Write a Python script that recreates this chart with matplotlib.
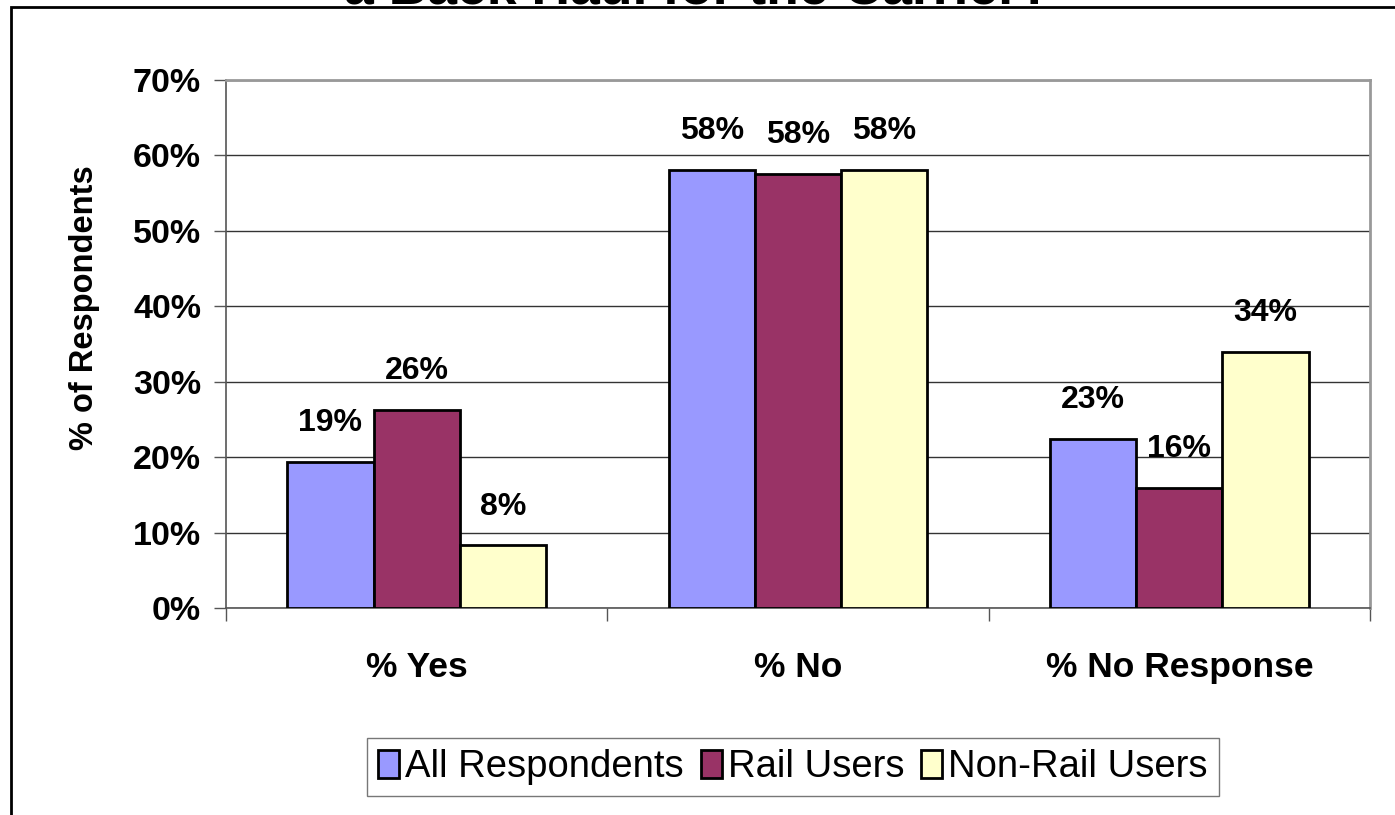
import matplotlib
matplotlib.use("Agg")
import matplotlib.pyplot as plt
from matplotlib.patches import Rectangle
import numpy as np

categories = ["% Yes", "% No", "% No Response"]
series_names = ["All Respondents", "Rail Users", "Non-Rail Users"]
all_resp = [19.4, 58.1, 22.4]
rail_users = [26.2, 57.6, 15.9]
non_rail = [8.3, 58.1, 33.9]
label_text = [["19%", "58%", "23%"], ["26%", "58%", "16%"], ["8%", "58%", "34%"]]
colors = ["#9999FF", "#993366", "#FFFFCC"]
title = "a Back Haul for the Carrier?"
ylabel = "% of Respondents"
yticks = [0, 10, 20, 30, 40, 50, 60, 70]

plt.rcParams['font.family'] = ['Liberation Sans', 'DejaVu Sans']

W, H = 1395, 815
fig = plt.figure(figsize=(W / 100, H / 100), dpi=100)

# outer frame (cropped at right and bottom)
frame = Rectangle((11 / W, -0.1), 1.2, 1.1 - 7 / H, transform=fig.transFigure,
                  fill=False, edgecolor="black", linewidth=2.0, clip_on=False)
fig.patches.append(frame)

# title (mostly cut off at top, as in the reference)
fig.text(0.5, 1 - 4 / H, title, ha="center", va="baseline",
         fontsize=38.5, fontweight="bold")

ax = fig.add_axes([226 / W, 1 - 608 / H, (1370 - 226) / W, (608 - 80) / H])

x = np.arange(len(categories))
bw = 0.226
data = [all_resp, rail_users, non_rail]
for i, (vals, c, name) in enumerate(zip(data, colors, series_names)):
    pos = x + (i - 1) * bw
    ax.bar(pos, vals, width=bw, color=c, edgecolor="black",
           linewidth=2.0, label=name, zorder=3)
    for p, v, t in zip(pos, vals, label_text[i]):
        ax.annotate(t, (p, v), xytext=(0, 28), textcoords="offset points",
                    ha="center", va="center", fontsize=23, fontweight="bold",
                    zorder=4)

ax.set_xlim(-0.5, 2.5)
ax.set_ylim(0, 70)
ax.set_yticks(yticks)
ax.set_yticklabels([f"{t}%" for t in yticks], fontsize=24.5, fontweight="bold")
ax.yaxis.grid(True, color="#333333", linewidth=1.0, zorder=0)
ax.tick_params(axis="y", length=9, width=1, color="#555555", pad=9)

ax.set_xticks([-0.5, 0.5, 1.5, 2.5])
ax.set_xticklabels([])
ax.tick_params(axis="x", which="major", length=9, width=1, color="#555555")
ax.set_xticks(x, minor=True)
ax.set_xticklabels(categories, minor=True, fontsize=25.5, fontweight="bold")
ax.tick_params(axis="x", which="minor", length=0, pad=31)

fig.text(85 / W, 1 - 308 / H, ylabel, rotation=90, ha="center", va="center",
         fontsize=23.5, fontweight="bold")

for s in ["left", "bottom"]:
    ax.spines[s].set_color("#555555")
    ax.spines[s].set_linewidth(1.2)
for s in ["top", "right"]:
    ax.spines[s].set_color("#999999")
    ax.spines[s].set_linewidth(2.0)

leg = fig.legend(loc="center", bbox_to_anchor=((371 + 1215) / 2 / W, 1 - 767 / H),
                 ncol=3, fontsize=27.5, frameon=True, fancybox=False,
                 edgecolor="#555555", handlelength=0.55, handleheight=0.75,
                 handletextpad=0.15, columnspacing=0.45, borderpad=0.3,
                 borderaxespad=0)
leg.get_frame().set_linewidth(1.0)

fig.savefig("out.png", dpi=100)
